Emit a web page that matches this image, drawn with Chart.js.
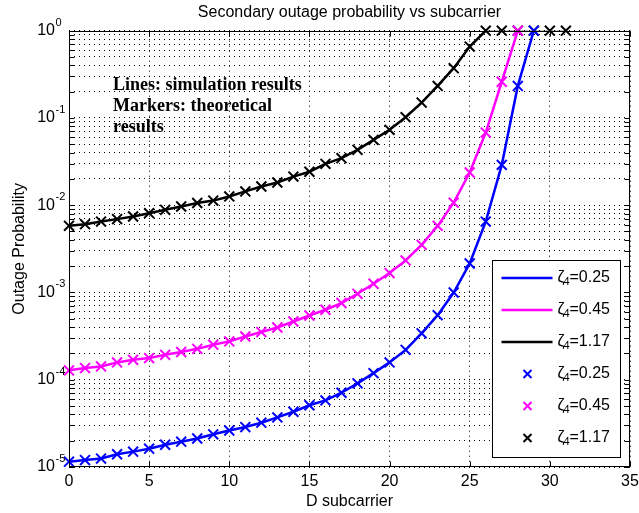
<!DOCTYPE html>
<html>
<head>
<meta charset="utf-8">
<script src="https://cdn.jsdelivr.net/npm/chart.js@4/dist/chart.umd.min.js"></script>
<style>
  html, body { margin: 0; padding: 0; background: #fff; }
  #wrap { width: 639px; height: 513px; }
</style>
</head>
<body>
<div id="wrap"><canvas id="chart" width="639" height="513"></canvas></div>
<script>
// Data
// -----------------------

// D subcarrier (x axis)
const dSubcarrier = [0, 1, 2, 3, 4, 5, 6, 7, 8, 9, 10, 11, 12, 13, 14, 15,
  16, 17, 18, 19, 20, 21, 22, 23, 24, 25, 26, 27, 28, 29, 30, 31];

// outage probability for each zeta_4
const zeta025 = [1.15e-5, 1.2e-5, 1.25e-5, 1.4e-5, 1.5e-5, 1.62e-5, 1.8e-5, 1.95e-5,
  2.12e-5, 2.37e-5, 2.62e-5, 2.87e-5, 3.22e-5, 3.7e-5, 4.3e-5, 5.1e-5, 5.8e-5, 7.1e-5,
  9.1e-5, 1.19e-4, 1.58e-4, 2.2e-4, 3.4e-4, 5.5e-4, 1.0e-3, 2.15e-3, 6.5e-3, 2.9e-2,
  0.233, 1];
const zeta045 = [1.28e-4, 1.36e-4, 1.42e-4, 1.58e-4, 1.69e-4, 1.77e-4, 1.93e-4, 2.08e-4,
  2.26e-4, 2.52e-4, 2.75e-4, 3.13e-4, 3.52e-4, 3.97e-4, 4.65e-4, 5.45e-4, 6.34e-4, 7.57e-4,
  9.66e-4, 1.26e-3, 1.67e-3, 2.33e-3, 3.52e-3, 5.8e-3, 1.07e-2, 2.37e-2, 6.8e-2, 0.26, 1];
const zeta117 = [5.8e-3, 6.07e-3, 6.5e-3, 6.93e-3, 7.43e-3, 8.11e-3, 8.86e-3, 9.66e-3,
  1.06e-2, 1.13e-2, 1.26e-2, 1.44e-2, 1.64e-2, 1.82e-2, 2.13e-2, 2.42e-2, 2.98e-2, 3.46e-2,
  4.31e-2, 5.61e-2, 7.31e-2, 0.102, 0.150, 0.233, 0.372, 0.658, 1, 1, 1, 1, 1, 1];

const zetaLabels = ['0.25', '0.45', '1.17'];
const seriesColors = ['#0000ff', '#ff00ff', '#000000'];

// Tick labels
const yMajorTicks = [1e-5, 1e-4, 1e-3, 1e-2, 1e-1, 1];
const yTickExponents = ['-5', '-4', '-3', '-2', '-1', '0'];
const xTickStep = 5;

const titleText = 'Secondary outage probability vs subcarrier';
const xTitle = 'D subcarrier';
const yTitle = 'Outage Probability';
const noteLines = ['Lines: simulation results', 'Markers: theoretical', 'results'];

// Helpers
// -------

const SANS = '"Liberation Sans", Arial, Helvetica, sans-serif';

// all the 1..9 x 10^k grid positions of the log axis
function logGridValues() {
  const vals = [];
  for (let e = -5; e < 0; e++) {
    for (let m = 1; m <= 9; m++) vals.push(Number((m * Math.pow(10, e)).toPrecision(3)));
  }
  vals.push(1);
  return vals;
}
const yGridValues = logGridValues();

function toPoints(values) {
  return values.map((v, i) => ({ x: dSubcarrier[i], y: v }));
}

function drawCross(ctx, x, y, half) {
  ctx.moveTo(x - half, y - half);
  ctx.lineTo(x + half, y + half);
  ctx.moveTo(x - half, y + half);
  ctx.lineTo(x + half, y - half);
}

// Datasets: solid lines (simulation) + x markers (theory)
const allSeries = [zeta025, zeta045, zeta117];
const datasets = [];
allSeries.forEach((vals, i) => {
  datasets.push({
    label: 'sim ' + zetaLabels[i],
    data: toPoints(vals),
    borderColor: seriesColors[i],
    borderWidth: 2.5,
    pointRadius: 0,
    showLine: true,
    tension: 0,
    fill: false
  });
});
allSeries.forEach((vals, i) => {
  datasets.push({
    label: 'theory ' + zetaLabels[i],
    data: toPoints(vals),
    showLine: false,
    pointStyle: 'crossRot',
    pointRadius: 7,
    pointBorderWidth: 2,
    pointBorderColor: seriesColors[i],
    pointBackgroundColor: seriesColors[i],
    clip: false
  });
});

// Axes box, inward ticks, y labels (10^k), note text
const matlabAxes = {
  id: 'matlabAxes',
  afterDatasetsDraw(chart) {
    const { ctx, chartArea: a, scales: { x, y } } = chart;
    const L = Math.round(a.left) + 0.5, R = Math.round(a.right) - 0.5;
    const T = Math.round(a.top) + 0.5, B = Math.round(a.bottom) - 0.5;
    ctx.save();
    ctx.strokeStyle = '#000';
    ctx.lineWidth = 1;
    ctx.strokeRect(L, T, R - L, B - T);

    ctx.beginPath();
    yGridValues.forEach(v => {
      const py = Math.round(y.getPixelForValue(v)) + 0.5;
      ctx.moveTo(L, py); ctx.lineTo(L + 5, py);
      ctx.moveTo(R, py); ctx.lineTo(R - 5, py);
    });
    x.ticks.forEach(t => {
      const px = Math.round(x.getPixelForValue(t.value)) + 0.5;
      ctx.moveTo(px, B); ctx.lineTo(px, B - 5);
      ctx.moveTo(px, T); ctx.lineTo(px, T + 5);
    });
    ctx.stroke();

    // y tick labels as 10 with a raised exponent
    ctx.fillStyle = '#000';
    yMajorTicks.forEach((v, i) => {
      const py = y.getPixelForValue(v);
      ctx.font = '16px ' + SANS;
      ctx.textAlign = 'right';
      ctx.textBaseline = 'middle';
      ctx.fillText('10', a.left - 14, py);
      ctx.font = '11px ' + SANS;
      ctx.textAlign = 'left';
      ctx.textBaseline = 'alphabetic';
      ctx.fillText(yTickExponents[i], a.left - 13.5, py - 5);
    });

    // note in the upper left
    ctx.font = 'bold 18px "Liberation Serif", "Times New Roman", serif';
    ctx.textAlign = 'left';
    ctx.textBaseline = 'alphabetic';
    noteLines.forEach((line, i) => {
      ctx.fillText(line, a.left + 44, a.top + 59 + i * 21);
    });
    ctx.restore();
  },
  afterDraw(chart) {
    // legend box in the lower right corner
    const { ctx, chartArea: a } = chart;
    const left = Math.round(a.right - 138) + 0.5;
    const top = Math.round(a.top + 229) + 0.5;
    const w = 128, h = 197;
    ctx.save();
    ctx.fillStyle = '#fff';
    ctx.fillRect(left, top, w, h);
    ctx.strokeStyle = '#000';
    ctx.lineWidth = 1;
    ctx.strokeRect(left, top, w, h);

    for (let k = 0; k < 6; k++) {
      const i = k % 3;
      const ey = top + 17.5 + k * 32;
      ctx.strokeStyle = seriesColors[i];
      ctx.lineWidth = 2.5;
      ctx.beginPath();
      if (k < 3) {
        ctx.moveTo(left + 9, ey);
        ctx.lineTo(left + 60, ey);
      } else {
        ctx.lineWidth = 2;
        drawCross(ctx, left + 35, ey, 4);
      }
      ctx.stroke();

      ctx.fillStyle = '#000';
      ctx.textAlign = 'left';
      ctx.textBaseline = 'middle';
      ctx.font = '16px ' + SANS;
      ctx.fillText('\u03b6', left + 65, ey);
      ctx.font = '11px ' + SANS;
      ctx.fillText('4', left + 71, ey + 4);
      ctx.font = '16px ' + SANS;
      ctx.fillText('=' + zetaLabels[i], left + 77, ey);
    }
    ctx.restore();
  }
};

const gridDash = [1, 4];

new Chart(document.getElementById('chart'), {
  type: 'line',
  data: { datasets },
  options: {
    responsive: false,
    animation: false,
    events: [],
    layout: { padding: { left: 0, right: 6, top: 0, bottom: 0 } },
    plugins: {
      legend: { display: false },
      tooltip: { enabled: false },
      title: {
        display: true,
        text: titleText,
        fullSize: false,
        color: '#000',
        font: { family: SANS, size: 16, weight: 'normal' },
        padding: { top: 3, bottom: 8.5 }
      }
    },
    scales: {
      x: {
        type: 'linear',
        min: 0,
        max: 35,
        ticks: {
          stepSize: xTickStep,
          color: '#000',
          padding: 5,
          font: { family: SANS, size: 16 }
        },
        grid: { color: '#000', lineWidth: 1, drawTicks: false, borderDash: gridDash },
        border: { display: false, dash: gridDash },
        title: {
          display: true,
          text: xTitle,
          color: '#000',
          font: { family: SANS, size: 16 },
          padding: { top: 0, bottom: 1.7 }
        },
        afterFit(scale) {
          scale.height = 46;
          scale.paddingLeft = 0;
          scale.paddingRight = 0;
        }
      },
      y: {
        type: 'logarithmic',
        min: 1e-5,
        max: 1,
        afterBuildTicks(scale) {
          scale.ticks = yGridValues.map(v => ({ value: v }));
        },
        ticks: { display: false, autoSkip: false },
        grid: { color: '#000', lineWidth: 1, drawTicks: false, borderDash: gridDash },
        border: { display: false, dash: gridDash },
        title: {
          display: true,
          text: yTitle,
          color: '#000',
          font: { family: SANS, size: 16 },
          padding: { top: 9.5, bottom: 0 }
        },
        afterFit(scale) {
          scale.width = 69;
        }
      }
    }
  },
  plugins: [matlabAxes]
});
</script>
</body>
</html>
